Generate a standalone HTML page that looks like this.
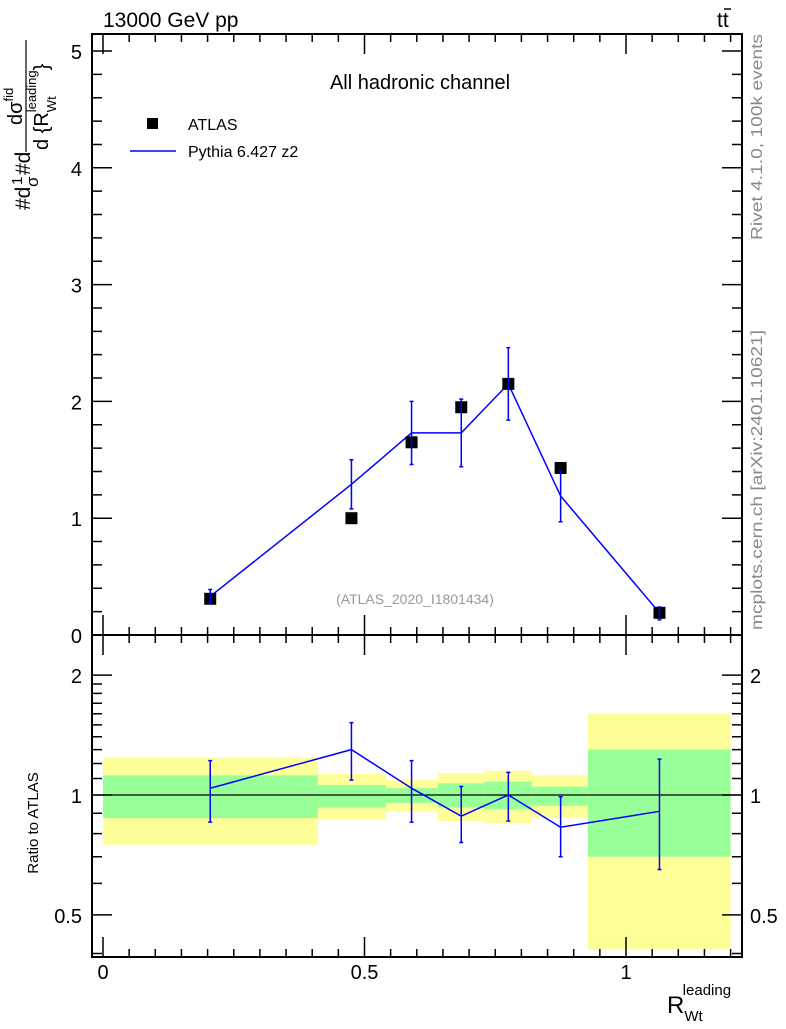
<!DOCTYPE html>
<html><head><meta charset="utf-8"><style>
body{margin:0;background:#fff;}
svg text{font-family:"Liberation Sans",Arial,sans-serif;}
</style></head><body>
<svg id="chart" width="786" height="1024" xmlns="http://www.w3.org/2000/svg">
<g id="bands"></g>
<g id="marks"></g>
<g id="axes"></g>
<text x="103" y="27" font-size="21">13000 GeV pp</text>
<text x="717" y="27" font-size="21">tt</text>
<line x1="724" y1="9" x2="731" y2="9" stroke="#000" stroke-width="1.5"/>
<text x="420" y="89" font-size="20" text-anchor="middle">All hadronic channel</text>
<rect x="147" y="118" width="11" height="11" fill="#000"/>
<text x="188" y="130" font-size="16">ATLAS</text>
<line x1="130" y1="151" x2="176" y2="151" stroke="#00f" stroke-width="1.5"/>
<text x="188" y="157" font-size="16">Pythia 6.427 z2</text>
<text x="415" y="604" font-size="14" fill="#999" text-anchor="middle">(ATLAS_2020_I1801434)</text>
<text transform="translate(762,240) rotate(-90)" font-size="16" fill="#888" textLength="206" lengthAdjust="spacingAndGlyphs">Rivet 4.1.0,  100k events</text>
<text transform="translate(762,630) rotate(-90)" font-size="16" fill="#888" textLength="300" lengthAdjust="spacingAndGlyphs">mcplots.cern.ch [arXiv:2401.10621]</text>
<g>
<text transform="translate(30,210) rotate(-90)" font-size="21">#d</text>
<text transform="translate(22,185) rotate(-90)" font-size="15">1</text>
<text transform="translate(38,187) rotate(-90)" font-size="17">σ</text>
<text transform="translate(30,175) rotate(-90)" font-size="21">#d</text>
<line x1="26" y1="152" x2="26" y2="40" stroke="#000" stroke-width="1.2"/>
<text transform="translate(22,125) rotate(-90)" font-size="20">dσ<tspan font-size="13" dy="-9">fid</tspan></text>
<text transform="translate(48,150) rotate(-90)" font-size="20">d {R<tspan font-size="13" dy="8">Wt</tspan><tspan font-size="13" dx="-16" dy="-20">leading</tspan><tspan dy="12">}</tspan></text>
</g>
<text transform="translate(38,823) rotate(-90)" font-size="15" text-anchor="middle">Ratio to ATLAS</text>
<text x="667" y="1013" font-size="24">R<tspan font-size="15" dy="8">Wt</tspan><tspan font-size="15" dx="-20" dy="-26">leading</tspan></text>
</svg>
<script>
const binEdges=[0,0.411,0.541,0.64,0.729,0.82,0.927,1.2];
const xVals=[0.205,0.475,0.59,0.685,0.775,0.875,1.064];
const atlasVals=[0.31,1.0,1.65,1.95,2.15,1.43,0.19];
const mcVals=[0.33,1.29,1.73,1.73,2.15,1.19,0.19];
const mcLo=[0.27,1.08,1.46,1.44,1.84,0.97,0.13];
const mcHi=[0.39,1.50,2.00,2.02,2.46,1.40,0.24];
const greenLo=[0.875,0.93,0.955,0.93,0.92,0.94,0.70];
const greenHi=[1.12,1.06,1.04,1.07,1.08,1.05,1.30];
const yellowLo=[0.75,0.865,0.91,0.86,0.85,0.875,0.41];
const yellowHi=[1.24,1.13,1.09,1.135,1.15,1.12,1.6];
const ratioVals=[1.04,1.30,1.04,0.885,1.0,0.83,0.91];
const ratioLo=[0.855,1.09,0.855,0.76,0.86,0.70,0.65];
const ratioHi=[1.22,1.52,1.22,1.05,1.14,0.99,1.23];
const mainTicks=["0","1","2","3","4","5"];
const ratioTicks=["0.5","1","2"];
const xTicks=["0","0.5","1"];

const NS="http://www.w3.org/2000/svg";
const L=92,R=742,T=34,M=635,B=957;
const X=v=>103+523*v;
const Y=v=>635-116.8*v;
const YR=v=>795-173*Math.log(v);
function mk(parent,tag,attrs){const e=document.createElementNS(NS,tag);for(const k in attrs)e.setAttribute(k,attrs[k]);document.getElementById(parent).appendChild(e);return e;}

for(let i=0;i<xVals.length;i++){
  let e=mk('bands','rect',{x:X(binEdges[i]),width:X(binEdges[i+1])-X(binEdges[i]),y:YR(yellowHi[i]),height:YR(yellowLo[i])-YR(yellowHi[i]),fill:'#ffff99'});
  
  
  e=mk('bands','rect',{x:X(binEdges[i]),width:X(binEdges[i+1])-X(binEdges[i]),y:YR(greenHi[i]),height:YR(greenLo[i])-YR(greenHi[i]),fill:'#99ff99'});
  
  
}
let e=mk('marks','line',{x1:L,x2:R,y1:YR(1),y2:YR(1),stroke:'#000','stroke-width':1.3});


e=mk('marks','polyline',{points:xVals.map((x,i)=>X(x)+','+Y(mcVals[i])).join(' '),fill:'none',stroke:'#00f','stroke-width':1.5});


e=mk('marks','polyline',{points:xVals.map((x,i)=>X(x)+','+YR(ratioVals[i])).join(' '),fill:'none',stroke:'#00f','stroke-width':1.5});


for(let i=0;i<xVals.length;i++){
  const x=X(xVals[i]);
  e=mk('marks','rect',{x:x-6,y:Y(atlasVals[i])-6,width:12,height:12,fill:'#000'});
  
  
  e=mk('marks','path',{d:`M${x},${Y(mcLo[i])}V${Y(mcHi[i])}M${x-2},${Y(mcLo[i])}h4M${x-2},${Y(mcHi[i])}h4`,stroke:'#00f','stroke-width':1.5,fill:'none'});
  
  
  e=mk('marks','path',{d:`M${x},${YR(ratioLo[i])}V${YR(ratioHi[i])}M${x-2},${YR(ratioLo[i])}h4M${x-2},${YR(ratioHi[i])}h4`,stroke:'#00f','stroke-width':1.5,fill:'none'});
  
  
}
e=mk('axes','rect',{x:L,y:T,width:R-L,height:M-T,fill:'none',stroke:'#000','stroke-width':2});


e=mk('axes','rect',{x:L,y:M,width:R-L,height:B-M,fill:'none',stroke:'#000','stroke-width':2});


let d='';
for(let v=0;v<=5.001;v+=0.2){const y=Y(v);if(y<T)continue;const maj=Math.abs(v-Math.round(v))<1e-6;const len=maj?20:10;d+=`M${L},${y}h${len}M${R},${y}h${-len}`;}
mainTicks.forEach(t=>{e=mk('axes','text',{x:L-10,y:Y(+t)+8,'font-size':20,'text-anchor':'end'});e.textContent=t;});
[0.4,0.5,0.6,0.7,0.8,0.9,1,1.1,1.2,1.3,1.4,1.5,1.6,1.7,1.8,1.9,2].forEach(v=>{const y=YR(v);if(y>B||y<M)return;const maj=[0.5,1,2].includes(v);const len=maj?20:10;d+=`M${L},${y}h${len}M${R},${y}h${-len}`;});
ratioTicks.forEach(t=>{const y=YR(+t)+8;
 e=mk('axes','text',{x:L-10,y:y,'font-size':20,'text-anchor':'end'});e.textContent=t;
 e=mk('axes','text',{x:R+8,y:y,'font-size':20});e.textContent=t;});
for(let v=0;v<=1.2001;v+=0.05){const x=X(v);const maj=Math.abs(v*2-Math.round(v*2))<1e-6;const len=maj?20:8;d+=`M${x},${M}v${-len}M${x},${M}v${len}M${x},${B}v${-len}M${x},${T}v${len}`;}
e=mk('axes','path',{d:d,stroke:'#000','stroke-width':1.5,fill:'none'});


xTicks.forEach(t=>{e=mk('axes','text',{x:X(+t),y:979,'font-size':20,'text-anchor':'middle'});e.textContent=t;});
</script>
</body></html>
